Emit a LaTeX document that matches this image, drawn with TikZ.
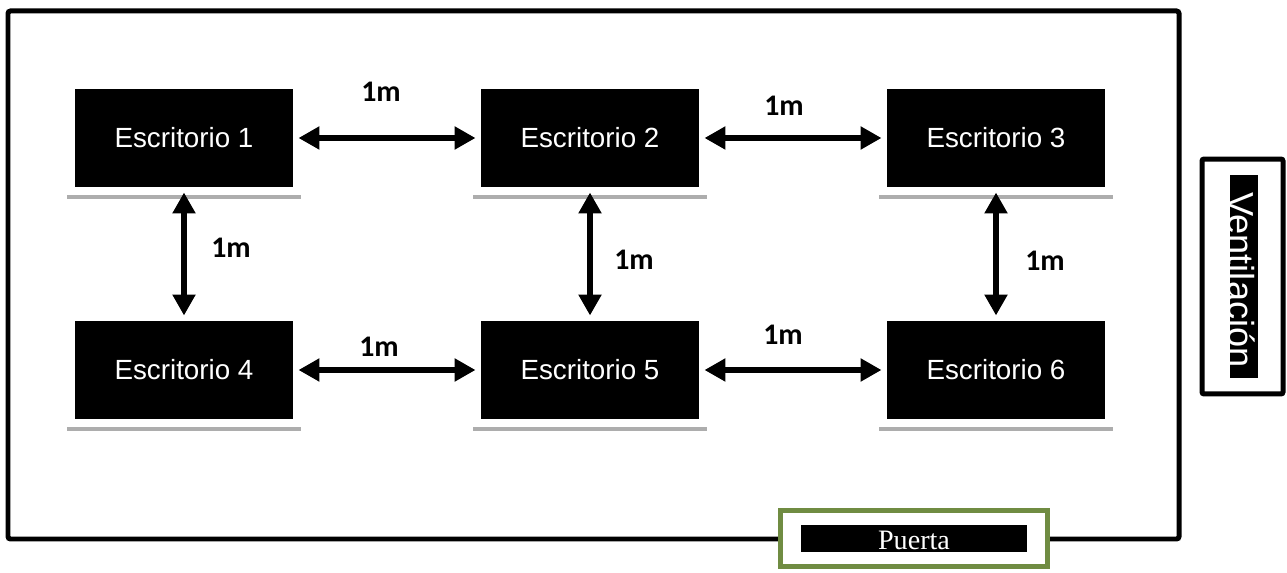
\documentclass[tikz,border=0pt]{standalone}
\usepackage{fontspec}
\setmainfont{Liberation Sans}
\newfontfamily\labelfont{Carlito}
\newfontfamily\doorfont{Liberation Serif}
\usetikzlibrary{arrows.meta,shadows}
\definecolor{doorgreen}{RGB}{112,140,66}
\tikzset{
    desk/.style={fill=black, text=white, draw=white, line width=0.16cm, outer sep=0.03cm,
        minimum width=4.52cm, minimum height=2.12cm, font=\fontsize{15.8}{18}\selectfont,
        general shadow={fill=black!32, shadow scale=1.035, shadow yshift=-0.11cm}},
    dist/.style={font=\labelfont\bfseries\fontsize{17}{20}\selectfont, inner sep=0pt},
    link/.style={line width=0.11cm, {Triangle[length=0.42cm,width=0.44cm]}-{Triangle[length=0.42cm,width=0.44cm]}},
}
\begin{document}
\begin{tikzpicture}[x=0.02cm, y=-0.02cm]
    \useasboundingbox (0,0) rectangle (1287,573);

    % room
    \draw[line width=0.1cm, rounded corners=0.05cm] (8,11) rectangle (1179,539);

    % desks
    \node[desk] (d1) at (184,138) {Escritorio 1};
    \node[desk] (d2) at (590,138) {Escritorio 2};
    \node[desk] (d3) at (996,138) {Escritorio 3};
    \node[desk] (d4) at (184,370) {Escritorio 4};
    \node[desk] (d5) at (590,370) {Escritorio 5};
    \node[desk] (d6) at (996,370) {Escritorio 6};

    % distances
    \foreach \a/\b in {d1/d2, d2/d3, d4/d5, d5/d6, d1/d4, d2/d5, d3/d6}
        \draw[link] (\a) -- (\b);

    \node[dist] (l12) at (381,92) {1m};
    \node[dist] (l23) at (784,106) {1m};
    \node[dist] (l14) at (231,248) {1m};
    \node[dist] (l25) at (634,260) {1m};
    \node[dist] (l36) at (1045,261) {1m};
    \node[dist] (l45) at (379,347) {1m};
    \node[dist] (l56) at (783,335) {1m};

    % door
    \node[draw=doorgreen, fill=white, line width=0.1cm, minimum width=5.36cm, minimum height=1.12cm] (door) at (914,538.5) {};
    \node[fill=black, text=white, inner sep=0pt, minimum width=4.54cm, minimum height=0.54cm,
        font=\doorfont\fontsize{16}{18}\selectfont] (puerta) at (914,538.5) {\smash{\raisebox{-6.5pt}{Puerta}}};

    % vent
    \node[draw, fill=white, line width=0.1cm, rounded corners=0.04cm, minimum width=1.62cm, minimum height=4.7cm] (vent) at (1242.5,276.5) {};
    \node[fill=black, text=white, inner sep=0pt, rotate=-90, minimum width=4.06cm, minimum height=0.56cm,
        font=\fontsize{20.6}{24}\selectfont] (ventilacion) at (1244,276.5) {\smash{\raisebox{-9pt}{\hspace*{4pt}Ventilación}}};
\end{tikzpicture}
\end{document}
